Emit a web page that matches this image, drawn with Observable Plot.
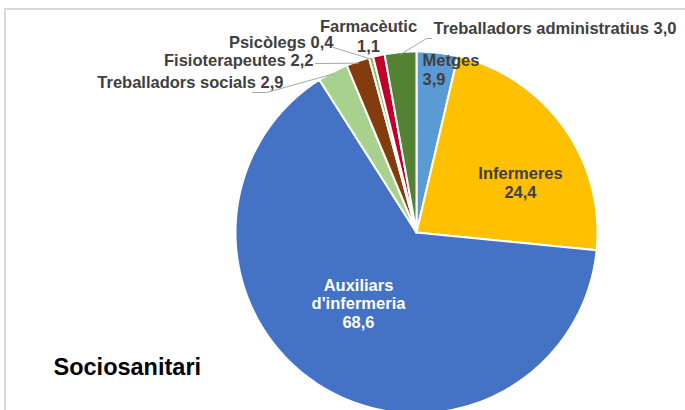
<!DOCTYPE html>
<html>
<head>
<meta charset="utf-8">
<script src="https://cdn.jsdelivr.net/npm/d3@7"></script>
<script src="https://cdn.jsdelivr.net/npm/@observablehq/plot@0.6"></script>
<style>
  html, body { margin: 0; padding: 0; background: #fff; overflow: hidden; }
  #wrap { position: relative; width: 685px; height: 410px; }
  #border { position: absolute; left: 4px; top: 8px; width: 720px; height: 460px;
            border: 2px solid #d9d9d9; box-sizing: border-box; z-index: 0; }
  #chart { position: absolute; left: 0; top: 0; z-index: 1; }
  #chart svg { background: transparent; }
</style>
</head>
<body>
<div id="wrap"><div id="border"></div><div id="chart"></div></div>
<script>
// ---- data ----
const categories = ["Metges", "Infermeres", "Auxiliars d'infermeria", "Treballadors socials",
                    "Fisioterapeutes", "Psicòlegs", "Farmacèutic", "Treballadors administratius"];
const values = [3.9, 24.4, 68.6, 2.9, 2.2, 0.4, 1.1, 3.0];
const colors = ["#5B9BD5", "#FFC000", "#4472C4", "#A9D18E", "#843C0C", "#8CC063", "#C0002A", "#548235"];
const title = "Sociosanitari";

// ---- layout (pixels) ----
const W = 685, H = 410;
const cx = 416, cy = 232, R = 181;
const labelLayout = {
  "Metges": {mode: "stack", x: 422, y: 69, anchor: "start", fill: "#404040"},
  "Infermeres": {mode: "stack", x: 520, y: 182, anchor: "middle", fill: "#404040"},
  "Auxiliars d'infermeria": {mode: "stack", x: 358, y: 303, anchor: "middle", fill: "#ffffff"},
  "Treballadors socials": {mode: "inline", x: 283, y: 82, anchor: "end", fill: "#404040",
                           leader: [[252, 92], [266, 92]]},
  "Fisioterapeutes": {mode: "inline", x: 313, y: 60, anchor: "end", fill: "#404040",
                      leader: [[315, 63]]},
  "Psicòlegs": {mode: "inline", x: 333, y: 42, anchor: "end", fill: "#404040",
                leader: [[333, 47]]},
  "Farmacèutic": {mode: "stack", x: 368, y: 35, anchor: "middle", fill: "#404040", lh: 1.25},
  "Treballadors administratius": {mode: "inline", x: 433, y: 28, anchor: "start", fill: "#404040",
                                  leader: [[431, 38], [426, 38]]}
};

const fmt = v => v.toFixed(1).replace(".", ",");
const rows = categories.map((name, i) => ({name, value: values[i]}));
const arcs = d3.pie().sort(null).value(d => d.value)(rows);

// slice polygons
const polys = [];
for (const a of arcs) {
  const name = a.data.name;
  polys.push({name, x: cx, y: cy});
  const n = Math.max(2, Math.ceil((a.endAngle - a.startAngle) / (Math.PI / 180)));
  for (let k = 0; k <= n; k++) {
    const t = a.startAngle + (a.endAngle - a.startAngle) * k / n;
    polys.push({name, x: cx + R * Math.sin(t), y: cy - R * Math.cos(t)});
  }
  polys.push({name, x: cx, y: cy});
}

// labels
const labels = arcs.map(a => {
  const name = a.data.name, L = labelLayout[name];
  const text = L.mode === "stack"
    ? [...name.split(" "), fmt(a.data.value)].join("\n")
    : `${name} ${fmt(a.data.value)}`;
  return {name, text, ...L};
});

// leader lines: from label side to slice outer edge at mid angle
const leaders = [];
for (const a of arcs) {
  const L = labelLayout[a.data.name];
  if (!L.leader) continue;
  const mid = (a.startAngle + a.endAngle) / 2;
  const pts = [...L.leader, [cx + (R - 2) * Math.sin(mid), cy - (R - 2) * Math.cos(mid)]];
  pts.forEach(([x, y]) => leaders.push({name: a.data.name, x, y}));
}

const textMark = (L) => Plot.text([L], {
  x: "x", y: "y", text: "text", textAnchor: L.anchor, fill: L.fill,
  fontSize: 16.5, fontWeight: "bold", lineHeight: L.lh || 1.12
});

const plot = Plot.plot({
  width: W, height: H,
  margin: 0,
  x: {domain: [0, W], range: [0, W], axis: null},
  y: {domain: [0, H], range: [0, H], axis: null},
  color: {domain: categories, range: colors},
  style: {fontFamily: "'Liberation Sans', Arial, sans-serif", background: "transparent"},
  marks: [
    Plot.line(polys, {x: "x", y: "y", z: "name", fill: "name", stroke: "white",
                      strokeWidth: 2, strokeLinejoin: "round", curve: "linear"}),
    Plot.line(leaders, {x: "x", y: "y", z: "name", stroke: "#a6a6a6", strokeWidth: 1}),
    ...labels.map(textMark),
    Plot.text([title], {frameAnchor: "bottom-left", dx: 53, dy: -36, textAnchor: "start",
                        fontSize: 23.5, fontWeight: "bold", fill: "#000"})
  ]
});
document.getElementById("chart").appendChild(plot);
</script>
</body>
</html>
